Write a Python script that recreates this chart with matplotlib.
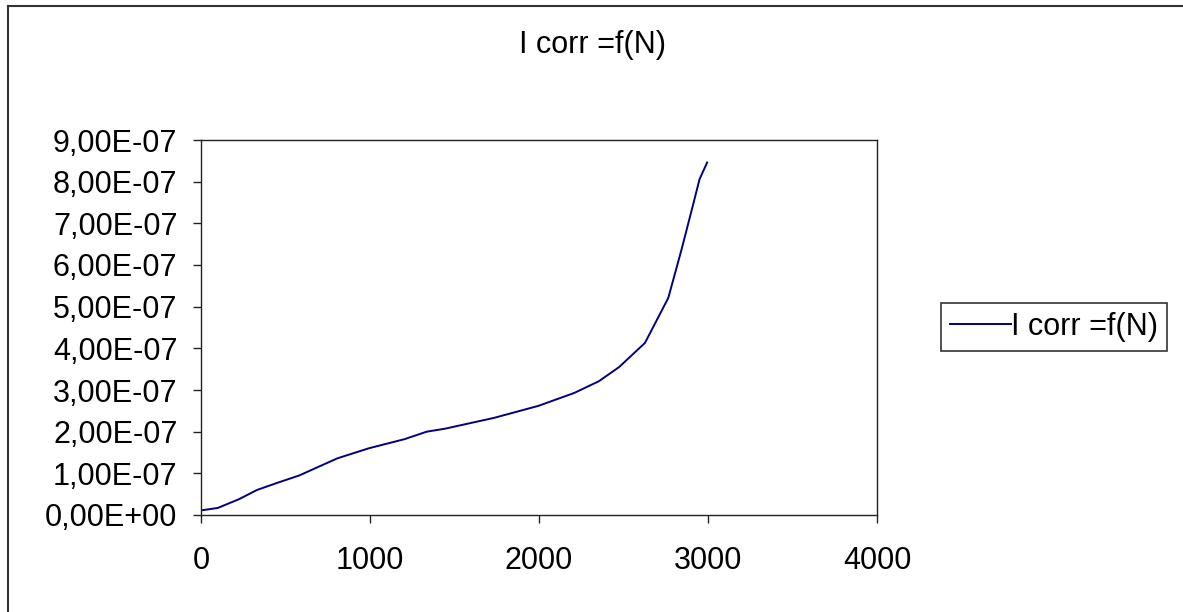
import matplotlib
matplotlib.use("Agg")
import matplotlib.pyplot as plt
from matplotlib.ticker import FuncFormatter, MultipleLocator
from matplotlib.lines import Line2D

# Data
n_values = [0, 100, 225, 331, 450, 582, 675, 807, 992, 1204, 1336, 1442,
            1733, 1997, 2209, 2354, 2474, 2627, 2765, 2844, 2910, 2950, 2995]
i_corr = [1.1e-8, 1.7e-8, 3.8e-8, 6.0e-8, 7.7e-8, 9.5e-8, 1.12e-7, 1.36e-7,
          1.60e-7, 1.82e-7, 2.00e-7, 2.07e-7, 2.33e-7, 2.62e-7, 2.93e-7,
          3.21e-7, 3.55e-7, 4.13e-7, 5.21e-7, 6.38e-7, 7.42e-7, 8.06e-7, 8.46e-7]
title_text = "I corr =f(N)"
series_label = "I corr =f(N)"

plt.rcParams['font.family'] = ['Liberation Sans', 'DejaVu Sans']

W, H = 1183, 612
fig = plt.figure(figsize=(W / 100, H / 100), dpi=100)
fig.patch.set_facecolor('white')

left, right, top, bottom = 201, 877, 140, 515
ax = fig.add_axes([left / W, 1 - bottom / H, (right - left) / W, (bottom - top) / H])

ax.plot(n_values, i_corr, color='#000080', lw=1.4, label=series_label)

ax.set_xlim(0, 4000)
ax.set_ylim(0, 9e-7)
ax.xaxis.set_major_locator(MultipleLocator(1000))
ax.yaxis.set_major_locator(MultipleLocator(1e-7))
ax.yaxis.set_major_formatter(FuncFormatter(lambda v, p: f"{v:.2E}".replace('.', ',')))
ax.xaxis.set_major_formatter(FuncFormatter(lambda v, p: f"{int(round(v))}"))

fs = 22
ax.tick_params(axis='both', direction='out', length=6, width=1.0, color='#222222',
               labelsize=fs, labelcolor='black')
ax.tick_params(axis='y', pad=11)
ax.tick_params(axis='x', pad=16)
for s in ax.spines.values():
    s.set_linewidth(1.0)
    s.set_color('#222222')

fig.text(592 / W, 1 - 45 / H, title_text, ha='center', va='center', fontsize=fs)

leg = fig.legend(loc='center left', bbox_to_anchor=(941 / W, 1 - 327 / H),
                 fontsize=fs, frameon=True, fancybox=False, edgecolor='black',
                 handlelength=2.0, handletextpad=0.0, borderpad=0.3,
                 borderaxespad=0.0)
leg.get_frame().set_linewidth(1.2)

# Outer chart border (top and left visible)
fig.add_artist(Line2D([8 / W, 1.0], [1 - 6 / H, 1 - 6 / H], transform=fig.transFigure,
                      color='#333333', lw=1.5))
fig.add_artist(Line2D([8 / W, 8 / W], [0.0, 1 - 6 / H], transform=fig.transFigure,
                      color='#333333', lw=1.5))

fig.savefig("out.png", dpi=100)
